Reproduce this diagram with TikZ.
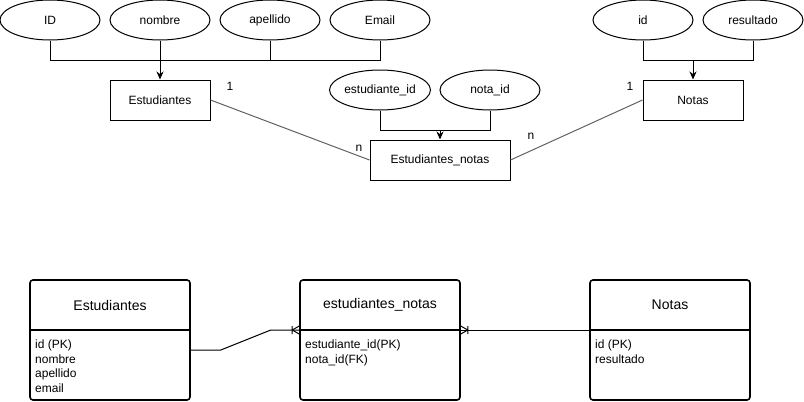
\documentclass[tikz,border=0pt]{standalone}
\usepackage{fontspec}
\setmainfont{Liberation Sans}
\usetikzlibrary{shapes.geometric,arrows.meta}

\tikzset{
  attr/.style={draw, ellipse, line width=1pt, minimum width=100, minimum height=40, inner sep=0pt},
  entity/.style={draw, rectangle, line width=1pt, minimum height=40, inner sep=0pt},
  link/.style={line width=1pt},
  rel/.style={line width=1pt, draw=black!62},
  card/.style={inner sep=0pt, anchor=base},
  feed/.style={line width=1pt, -{Stealth[length=8pt,width=7pt]}},
  table/.style={draw, line width=1.6pt, rounded corners=3pt, minimum width=160, minimum height=120, inner sep=0pt},
  title/.style={font=\fontsize{14}{16}\selectfont, inner sep=0pt},
  fields/.style={anchor=north west, align=left, inner sep=0pt, font=\fontsize{12}{14.5}\selectfont},
  er/.style={line width=1pt},
}

\begin{document}
\begin{tikzpicture}[x=1pt, y=-1pt, font=\fontsize{12}{14.4}\selectfont]
\useasboundingbox (0,0) rectangle (804,402);

% ---------------- conceptual model ----------------
\node[attr] (aID)  at (50,20)  {ID};
\node[attr] (aNom) at (160,20) {nombre};
\node[attr] (aApe) at (270,20) {apellido};
\node[attr] (aMail) at (380,20) {Email};
\node[entity, minimum width=100] (est) at (160,100) {Estudiantes};

\node[attr] (aEid) at (380,90) {estudiante\_id};
\node[attr] (aNid) at (490,90) {nota\_id};
\node[entity, minimum width=140] (estnot) at (440,160) {Estudiantes\_notas};

\node[attr] (aId)  at (643,20) {id};
\node[attr] (aRes) at (753,20) {resultado};
\node[entity, minimum width=100] (notas) at (693,100) {Notas};

% attribute bundles
\draw[link] (aID.south) -- ++(0,20) -| (aMail.south);
\draw[link] (aApe.south) -- ++(0,20);
\draw[feed] (aNom.south) -- (est.north);

\draw[link] (aEid.south) -- ++(0,20) -| (aNid.south);
\coordinate (jn) at (estnot.north |- 0,130);
\draw[feed] (jn) -- (estnot.north);

\draw[link] (aId.south) -- ++(0,20) -| (aRes.south);
\coordinate (jt) at (notas.north |- 0,60);
\draw[feed] (jt) -- (notas.north);

% relationships
\draw[rel] (est.east) -- (estnot.west);
\draw[rel] (notas.west) -- (estnot.east);
\node[card] (c1) at (230,90) {1};
\node[card] (c2) at (359,151) {n};
\node[card] (c3) at (630,90) {1};
\node[card] (c4) at (531,139) {n};

% ---------------- relational model ----------------
\node[table] (tEst) at (110,340) {};
\node[table] (tEN)  at (380,340) {};
\node[table] (tNot) at (670,340) {};

\foreach \t in {tEst,tEN,tNot}
  \draw[line width=1.6pt] (\t.west |- 0,330) -- (\t.east |- 0,330);

\node[title] (hEst) at (110,305) {Estudiantes};
\node[title] (hEN)  at (380,305) {estudiantes\_notas};
\node[title] (hNot) at (670,305) {Notas};

\node[fields] (fEst) at (35,340) {id (PK)\\nombre\\apellido\\email};
\node[fields] (fEN)  at (305,340) {estudiante\_id(PK)\\nota\_id(FK)};
\node[fields] (fNot) at (595,340) {id (PK)\\resultado};

% one-to-many links with crow's feet
\coordinate (pL) at ([yshift=10pt]tEN.west);
\coordinate (pR) at ([yshift=10pt]tEN.east);
\draw[er] ([yshift=-10pt]tEst.east) -- ++(30,0) -- ++(50,-20) -- (pL);
\draw[er] ([xshift=-7pt]pL) -- ++(7,-4) ([xshift=-7pt]pL) -- ++(7,4)
          ([xshift=-7pt]pL) ++(0,-4) -- ++(0,8);
\draw[er] ([yshift=10pt]tNot.west) -- (pR);
\draw[er] ([xshift=7pt]pR) -- ++(-7,-4) ([xshift=7pt]pR) -- ++(-7,4)
          ([xshift=7pt]pR) ++(0,-4) -- ++(0,8);
\end{tikzpicture}
\end{document}
